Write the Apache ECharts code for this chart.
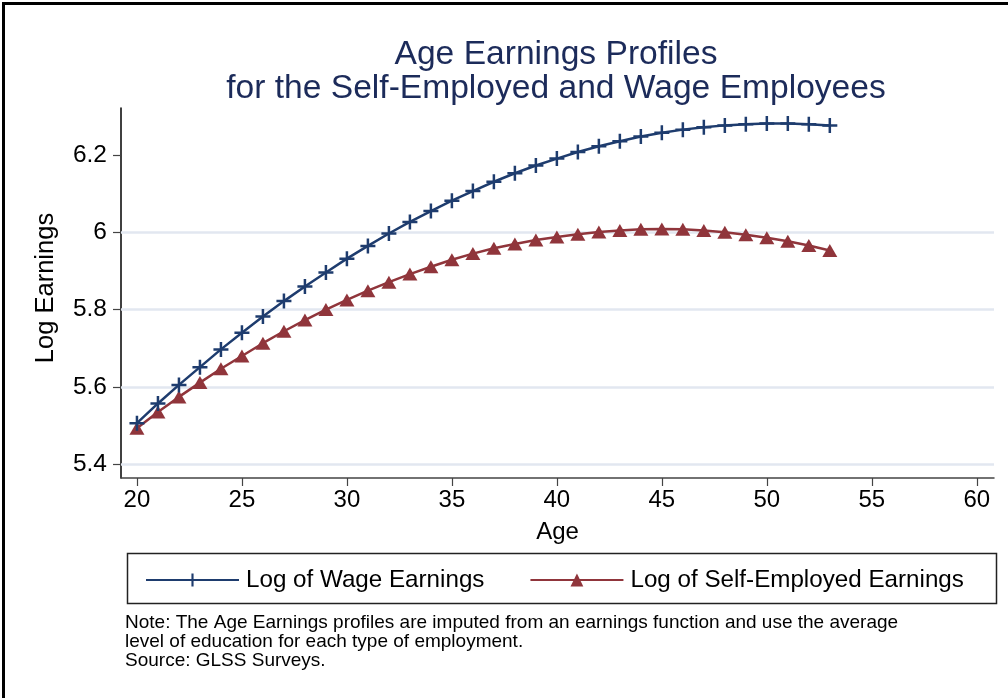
<!DOCTYPE html>
<html>
<head>
<meta charset="utf-8">
<script src="https://cdn.jsdelivr.net/npm/echarts@6/dist/echarts.min.js"></script>
<style>
  html, body { margin: 0; padding: 0; background: #fff; }
  #chart { width: 1008px; height: 698px; }
</style>
</head>
<body>
<div id="chart"></div>
<script>
// values
const ages = [20, 21, 22, 23, 24, 25, 26, 27, 28, 29, 30, 31, 32, 33, 34, 35, 36,
  37, 38, 39, 40, 41, 42, 43, 44, 45, 46, 47, 48, 49, 50, 51, 52, 53];
const wageEarnings = [5.506, 5.557, 5.605, 5.651, 5.697, 5.740, 5.782, 5.822, 5.860,
  5.896, 5.932, 5.965, 5.997, 6.027, 6.055, 6.082, 6.107, 6.131, 6.153, 6.173, 6.191,
  6.208, 6.223, 6.236, 6.248, 6.258, 6.266, 6.272, 6.277, 6.280, 6.282, 6.282, 6.280, 6.277];
const selfEmployedEarnings = [5.493, 5.535, 5.574, 5.611, 5.647, 5.680, 5.713, 5.744,
  5.773, 5.800, 5.825, 5.849, 5.871, 5.892, 5.911, 5.929, 5.945, 5.959, 5.970, 5.980,
  5.988, 5.995, 6.001, 6.005, 6.008, 6.009, 6.008, 6.005, 6.000, 5.994, 5.986, 5.977,
  5.966, 5.953];
const xTicks = [20, 25, 30, 35, 40, 45, 50, 55, 60];
const yTicks = [5.4, 5.6, 5.8, 6, 6.2];
const gridValues = [5.4, 5.6, 5.8, 6];

const navy = '#1e3c6e';
const maroon = '#90353b';
const font = '"Liberation Sans", Arial, Helvetica, sans-serif';
const plusPath = 'path://M5,0H7V5H12V7H7V12H5V7H0V5H5Z';

const chart = echarts.init(document.getElementById('chart'), null, {renderer: 'canvas'});

chart.setOption({
  animation: false,
  backgroundColor: '#fff',
  textStyle: {fontFamily: font},
  title: {
    text: 'Age Earnings Profiles\nfor the Self-Employed and Wage Employees',
    left: 551,
    top: 33,
    textAlign: 'center',
    textStyle: {fontFamily: font, fontSize: 33.6, fontWeight: 'normal', color: '#1c2b5a', lineHeight: 34}
  },
  grid: {left: 121, top: 108, right: 14, bottom: 220},
  xAxis: {
    type: 'value',
    min: 19.24,
    max: 60.82,
    name: 'Age',
    nameLocation: 'middle',
    nameGap: 42,
    nameTextStyle: {fontFamily: font, fontSize: 24, color: '#000'},
    axisLine: {show: true, onZero: false, lineStyle: {color: '#444', width: 1.5}},
    axisTick: {show: true, length: 8, lineStyle: {color: '#444', width: 1.2}, customValues: xTicks},
    axisLabel: {customValues: xTicks, fontSize: 24, color: '#000', margin: 10, fontFamily: font},
    splitLine: {show: false}
  },
  yAxis: {
    type: 'value',
    min: 5.364,
    max: 6.322,
    name: 'Log Earnings',
    nameLocation: 'middle',
    nameGap: 62,
    nameTextStyle: {fontFamily: font, fontSize: 25.5, color: '#000', padding: [0, 0, 0, 10]},
    axisLine: {show: true, onZero: false, lineStyle: {color: '#000', width: 1.5}},
    axisTick: {show: true, length: 8, lineStyle: {color: '#444', width: 1.2}, customValues: yTicks},
    axisLabel: {customValues: yTicks, fontSize: 24.5, color: '#000', margin: 14, fontFamily: font},
    splitLine: {show: false}
  },
  legend: {
    left: 140,
    top: 563,
    itemWidth: 93,
    itemHeight: 16,
    itemGap: 45,
    textStyle: {fontFamily: font, fontSize: 24.2, color: '#000', padding: [0, 0, 0, 2]},
    data: ['Log of Wage Earnings', 'Log of Self-Employed Earnings']
  },
  series: [
    {
      name: 'Log of Wage Earnings',
      type: 'line',
      data: ages.map((a, i) => [a, wageEarnings[i]]),
      symbol: plusPath,
      symbolSize: 15,
      showAllSymbol: true,
      lineStyle: {color: navy, width: 2.5},
      itemStyle: {color: navy},
      z: 3,
      markLine: {
        silent: true,
        symbol: 'none',
        label: {show: false},
        lineStyle: {color: '#e2e7f0', width: 2.5, type: 'solid'},
        data: gridValues.map(v => ({yAxis: v})),
        z: 1
      }
    },
    {
      name: 'Log of Self-Employed Earnings',
      type: 'line',
      data: ages.map((a, i) => [a, selfEmployedEarnings[i]]),
      symbol: 'triangle',
      symbolSize: [15, 13],
      showAllSymbol: true,
      lineStyle: {color: maroon, width: 2.5},
      itemStyle: {color: maroon},
      z: 2
    }
  ],
  graphic: [
    {type: 'rect', shape: {x: 3.5, y: 3.5, width: 1100, height: 800},
      style: {fill: 'none', stroke: '#000', lineWidth: 3}, silent: true},
    {type: 'rect', shape: {x: 127.5, y: 553.5, width: 869, height: 50},
      style: {fill: 'none', stroke: '#222', lineWidth: 1.5}, silent: true},
    {type: 'text', left: 125, top: 613,
      style: {text: 'Note: The Age Earnings profiles are imputed from an earnings function and use the average\nlevel of education for each type of employment.\nSource: GLSS Surveys.',
        font: '19px ' + font, fill: '#000', lineHeight: 19}}
  ]
});
</script>
</body>
</html>
